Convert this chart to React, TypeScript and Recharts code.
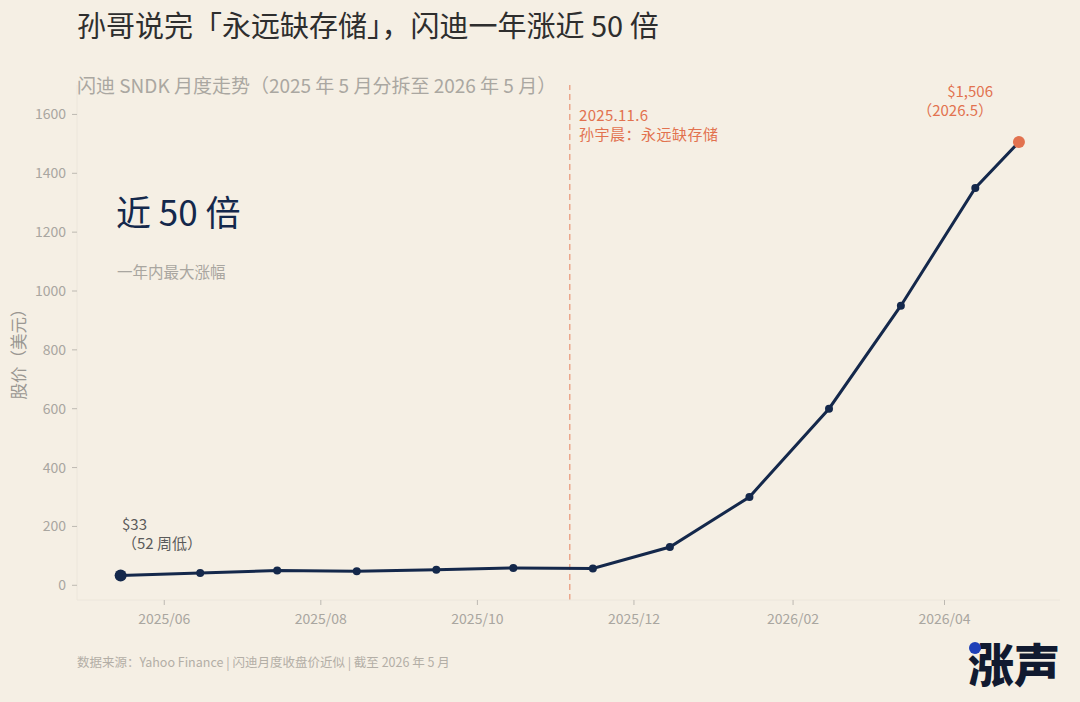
import { LineChart, Line, XAxis, YAxis, ReferenceLine } from "recharts";

// monthly closes (approx)
const DATES = [
  "2025-05-15", "2025-06-15", "2025-07-15", "2025-08-15", "2025-09-15",
  "2025-10-15", "2025-11-15", "2025-12-15", "2026-01-15", "2026-02-15",
  "2026-03-15", "2026-04-13", "2026-04-30",
];
const PRICES = [33, 42, 50, 48, 53, 59, 57, 130, 300, 600, 950, 1350, 1506];

const X_TICKS = ["2025-06-01", "2025-08-01", "2025-10-01", "2025-12-01", "2026-02-01", "2026-04-01"];
const Y_TICKS = [0, 200, 400, 600, 800, 1000, 1200, 1400, 1600];
const EVENT_DATE = "2025-11-06";

const BG = "#F5EFE4";
const NAVY = "#14284B";
const ORANGE = "#E2724F";
const GREY = "#A9A6A0";
const FONT = '"Noto Sans CJK SC", "Noto Sans", sans-serif';

const ts = (d: string) => Date.parse(d + "T00:00:00Z");

const data = DATES.map((d, i) => ({ t: ts(d), price: PRICES[i] }));

const fmtMonth = (v: number) => {
  const d = new Date(v);
  return `${d.getUTCFullYear()}/${String(d.getUTCMonth() + 1).padStart(2, "0")}`;
};

function PriceDot(props: any) {
  const { cx, cy, index } = props;
  const last = index === data.length - 1;
  const r = index === 0 || last ? 6 : 4;
  return <circle key={index} cx={cx} cy={cy} r={r} fill={last ? ORANGE : NAVY} stroke="none" />;
}

export default function App() {
  const txt = { position: "absolute" as const, fontFamily: FONT, whiteSpace: "nowrap" as const };
  return (
    <div style={{ position: "absolute", left: 0, top: 0, width: 1080, height: 702, background: BG, overflow: "hidden" }}>
      <LineChart
        width={1080}
        height={702}
        data={data}
        margin={{ top: 85, right: 20, bottom: 72, left: 27 }}
        style={{ position: "absolute", left: 0, top: 0, fontFamily: FONT }}
      >
        <XAxis
          dataKey="t"
          type="number"
          scale="time"
          domain={[ts("2025-04-28"), ts("2026-05-16")]}
          ticks={X_TICKS.map(ts)}
          tickFormatter={fmtMonth}
          height={30}
          axisLine={{ stroke: "#ECE6DB" }}
          tickLine={{ stroke: "#BDB9B2" }}
          tickSize={5}
          tickMargin={9}
          tick={{ fill: GREY, fontSize: 14 }}
        />
        <YAxis
          type="number"
          domain={[-50, 1700]}
          ticks={Y_TICKS}
          width={50}
          axisLine={{ stroke: "#ECE6DB" }}
          tickLine={{ stroke: "#BDB9B2" }}
          tickSize={5}
          tickMargin={6}
          tick={{ fill: GREY, fontSize: 14 }}
        />
        <ReferenceLine x={ts(EVENT_DATE)} stroke="#EA9B7D" strokeDasharray="6 4" strokeWidth={1.3} />
        <Line
          type="linear"
          dataKey="price"
          stroke={NAVY}
          strokeWidth={3}
          dot={PriceDot}
          activeDot={false}
          isAnimationActive={false}
        />
      </LineChart>

      <div style={{ ...txt, left: 77, top: 5, fontSize: 29, color: "#2E2E2E", lineHeight: "38px" }}>
        孙哥说完「永远缺存储」，闪迪一年涨近 50 倍
      </div>
      <div style={{ ...txt, left: 77, top: 73, fontSize: 19, color: "#AAA7A1", lineHeight: "24px" }}>
        闪迪 SNDK 月度走势（2025 年 5 月分拆至 2026 年 5 月）
      </div>
      <div
        style={{
          ...txt, left: 18, top: 350, fontSize: 16.5, color: "#9A9792", lineHeight: "20px",
          transform: "translate(-50%, -50%) rotate(-90deg)",
        }}
      >
        股价（美元）
      </div>

      <div style={{ ...txt, left: 116, top: 189, fontSize: 35, color: NAVY, lineHeight: "44px" }}>近 50 倍</div>
      <div style={{ ...txt, left: 117, top: 261, fontSize: 15.5, color: GREY, lineHeight: "20px" }}>一年内最大涨幅</div>

      <div style={{ ...txt, left: 122, top: 516, fontSize: 15, color: "#5A5A5A", lineHeight: "16px" }}>$33</div>
      <div style={{ ...txt, left: 122, top: 535, fontSize: 15, color: "#5A5A5A", lineHeight: "16px" }}>（52 周低）</div>

      <div style={{ ...txt, left: 579, top: 107, fontSize: 15, color: ORANGE, lineHeight: "16px", letterSpacing: 0.3 }}>
        2025.11.6
      </div>
      <div style={{ ...txt, left: 579, top: 126, fontSize: 15, color: ORANGE, lineHeight: "16px", letterSpacing: 0.5 }}>
        孙宇晨：永远缺存储
      </div>

      <div style={{ ...txt, right: 1080 - 993, top: 83, fontSize: 15, color: ORANGE, lineHeight: "16px", textAlign: "right" }}>
        $1,506
      </div>
      <div style={{ ...txt, right: 1080 - 993, top: 102, fontSize: 15, color: ORANGE, lineHeight: "16px", textAlign: "right" }}>
        （2026.5）
      </div>

      <div style={{ ...txt, left: 77, top: 654, fontSize: 12.5, color: "#B3AEA6", lineHeight: "16px" }}>
        数据来源：Yahoo Finance | 闪迪月度收盘价近似 | 截至 2026 年 5 月
      </div>

      <div
        style={{
          ...txt, left: 968, top: 635, fontSize: 46, fontWeight: 900, color: "#111A30",
          lineHeight: "54px", letterSpacing: 0,
        }}
      >
        涨声
      </div>
      <div style={{ position: "absolute", left: 969, top: 642, width: 12, height: 12, borderRadius: 6, background: "#1F40B8" }} />
    </div>
  );
}
